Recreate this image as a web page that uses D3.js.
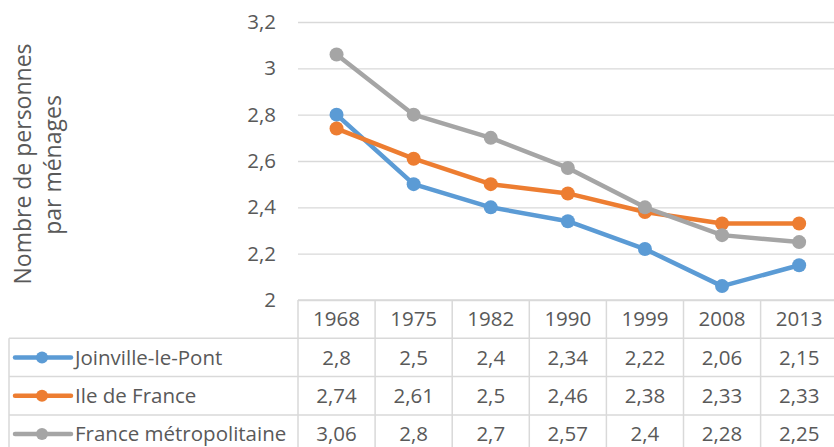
<!DOCTYPE html>
<html lang="fr">
<head>
<meta charset="UTF-8">
<script src="https://cdn.jsdelivr.net/npm/d3@7"></script>
<style>
  body { margin: 0; background: #fff; }
  svg text { font-family: "Open Sans", sans-serif; fill: #595959; }
</style>
</head>
<body>
<div id="chart"></div>
<script>
// données
var years = ["1968", "1975", "1982", "1990", "1999", "2008", "2013"];
var seriesNames = ["Joinville-le-Pont", "Ile de France", "France métropolitaine"];
var joinville = [2.8, 2.5, 2.4, 2.34, 2.22, 2.06, 2.15];
var ileDeFrance = [2.74, 2.61, 2.5, 2.46, 2.38, 2.33, 2.33];
var franceMetro = [3.06, 2.8, 2.7, 2.57, 2.4, 2.28, 2.25];
var yTicks = [2, 2.2, 2.4, 2.6, 2.8, 3, 3.2];
var colors = ["#5b9bd5", "#ed7d31", "#a5a5a5"];

var series = [joinville, ileDeFrance, franceMetro].map(function (v, i) {
    return { name: seriesNames[i], values: v, color: colors[i] };
});

var W = 834, H = 447;
var plotLeft = 298, colW = 77.1, plotTop = 22, plotBottom = 300;
var rowH = 38.3, legendLeft = 9;
var fs = "20.5px";
var fmt = function (d) { return String(d).replace(".", ","); };

var svg = d3.select("#chart").append("svg")
    .attr("width", W).attr("height", H);

var x = d3.scaleBand().domain(years)
    .range([plotLeft, plotLeft + colW * years.length]);
var y = d3.scaleLinear().domain([2, 3.2]).range([plotBottom, plotTop]);

// grille horizontale
var grid = svg.append("g")
    .attr("transform", "translate(" + plotLeft + ",0)")
    .call(d3.axisRight(y).tickValues(yTicks).tickSize(W - plotLeft).tickFormat(""));
grid.select(".domain").remove();
grid.selectAll(".tick line").attr("stroke", "#d9d9d9").attr("stroke-width", 1.3);

// axe y
var yAxis = svg.append("g")
    .attr("transform", "translate(276,0)")
    .call(d3.axisLeft(y).tickValues(yTicks).tickSize(0).tickPadding(0).tickFormat(fmt));
yAxis.select(".domain").remove();
yAxis.selectAll("text").style("font-size", fs).attr("fill", "#595959");

// titre axe y
var yTitle = svg.append("text")
    .attr("transform", "rotate(-90)")
    .attr("text-anchor", "middle")
    .style("font-size", "23px");
yTitle.append("tspan").attr("x", -164).attr("y", 31).text("Nombre de personnes");
yTitle.append("tspan").attr("x", -165).attr("y", 61).text("par ménages");

// lignes
var line = d3.line()
    .x(function (d, i) { return x(years[i]) + x.bandwidth() / 2; })
    .y(function (d) { return y(d); });

series.forEach(function (s) {
    var g = svg.append("g");
    g.append("path").datum(s.values)
        .attr("d", line)
        .attr("fill", "none")
        .attr("stroke", s.color)
        .attr("stroke-width", 4.5)
        .attr("stroke-linejoin", "round");
    g.selectAll("circle").data(s.values).enter().append("circle")
        .attr("cx", function (d, i) { return x(years[i]) + x.bandwidth() / 2; })
        .attr("cy", function (d) { return y(d); })
        .attr("r", 7)
        .attr("fill", s.color);
});

// tableau de données
var tbl = svg.append("g").attr("stroke", "#d9d9d9").attr("stroke-width", 1.5);
var bottom = plotBottom + rowH * 4;
// ligne d'en-tête
tbl.append("line").attr("x1", plotLeft).attr("x2", W).attr("y1", plotBottom).attr("y2", plotBottom);
for (var r = 1; r <= 3; r++) {
    var yy = plotBottom + rowH * r;
    tbl.append("line").attr("x1", legendLeft).attr("x2", W).attr("y1", yy).attr("y2", yy);
}
tbl.append("line").attr("x1", legendLeft).attr("x2", legendLeft)
    .attr("y1", plotBottom + rowH).attr("y2", bottom);
years.forEach(function (yr) {
    tbl.append("line").attr("x1", x(yr)).attr("x2", x(yr))
        .attr("y1", plotBottom).attr("y2", bottom);
});

// en-têtes années
svg.append("g").selectAll("text").data(years).enter().append("text")
    .attr("x", function (d) { return x(d) + x.bandwidth() / 2; })
    .attr("y", plotBottom + rowH / 2)
    .attr("dy", "0.35em")
    .attr("text-anchor", "middle")
    .style("font-size", fs)
    .text(function (d) { return d; });

// lignes du tableau
series.forEach(function (s, r) {
    var cy = plotBottom + rowH * (r + 1) + rowH / 2;
    var row = svg.append("g");
    row.append("line").attr("x1", 15).attr("x2", 71).attr("y1", cy).attr("y2", cy)
        .attr("stroke", s.color).attr("stroke-width", 4.5).attr("stroke-linecap", "round");
    row.append("circle").attr("cx", 42).attr("cy", cy).attr("r", 6).attr("fill", s.color);
    row.append("text").attr("x", 75).attr("y", cy).attr("dy", "0.35em")
        .style("font-size", fs).text(s.name);
    row.selectAll(".val").data(s.values).enter().append("text")
        .attr("class", "val")
        .attr("x", function (d, i) { return x(years[i]) + x.bandwidth() / 2; })
        .attr("y", cy).attr("dy", "0.35em")
        .attr("text-anchor", "middle")
        .style("font-size", fs)
        .text(fmt);
});
</script>
</body>
</html>
